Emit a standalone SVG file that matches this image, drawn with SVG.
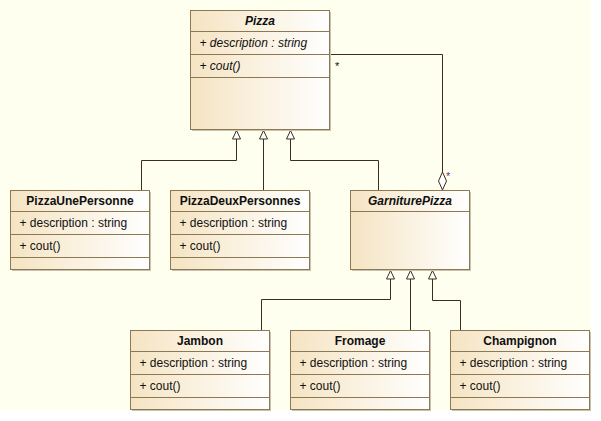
<svg xmlns="http://www.w3.org/2000/svg" width="601" height="421" viewBox="0 0 601 421">
<defs>
<linearGradient id="g" x1="0" y1="0" x2="1" y2="0">
<stop offset="0" stop-color="#F5E4C3"/>
<stop offset="1" stop-color="#FFFFFF"/>
</linearGradient>
<style>
.box{fill:url(#g);stroke:#8C7853;stroke-width:1}
.sh{fill:#C9C2AE}
.sep{stroke:#8C7853;stroke-width:1}
text{font-family:"Liberation Sans",Arial,sans-serif;font-size:12px;fill:#101010}
.t{font-weight:bold;text-anchor:middle}
.a{font-style:italic}
.c{fill:none;stroke:#3A2E20;stroke-width:1}
.tri{fill:#FFFFFF;stroke:#3A2E20;stroke-width:1}
</style>
</defs>
<rect x="0" y="0" width="601" height="421" fill="#FFFFFF"/>
<rect x="0" y="0" width="591" height="410" fill="#FFFFF0"/>

<g id="connectors">
<path class="c" d="M236.5,139 V160.5 H141.5 V190"/>
<path class="tri" d="M236.5,130.5 L240.5,139 L232.5,139 Z"/>
<path class="c" d="M263.5,139 V190"/>
<path class="tri" d="M263.5,130.5 L267.5,139 L259.5,139 Z"/>
<path class="c" d="M290.5,139 V160.5 H378.5 V190"/>
<path class="tri" d="M290.5,130.5 L294.5,139 L286.5,139 Z"/>
<path class="c" d="M330,54.5 H442.5 V172"/>
<path class="tri" d="M442.5,172 L446.5,181 L442.5,190 L438.5,181 Z"/>
<text x="335" y="70" style="font-size:11px">*</text>
<text x="446" y="180" style="font-size:11px;fill:#7A2A8A">*</text>
<path class="c" d="M390.5,279 V299.5 H261.5 V330"/>
<path class="tri" d="M390.5,270.5 L394.5,279 L386.5,279 Z"/>
<path class="c" d="M410.5,279 V330"/>
<path class="tri" d="M410.5,270.5 L414.5,279 L406.5,279 Z"/>
<path class="c" d="M432.5,279 V300.5 H460.5 V330"/>
<path class="tri" d="M432.5,270.5 L436.5,279 L428.5,279 Z"/>
</g>

<g id="Pizza">
<rect class="sh" x="192" y="12" width="139" height="119"/>
<rect class="box" x="190.5" y="10.5" width="139" height="119"/>
<line class="sep" x1="190.5" y1="31.5" x2="329.5" y2="31.5"/>
<line class="sep" x1="190.5" y1="54.5" x2="329.5" y2="54.5"/>
<line class="sep" x1="190.5" y1="77.5" x2="329.5" y2="77.5"/>
<text class="t a" x="260" y="25">Pizza</text>
<text class="a" x="199.5" y="47">+ description : string</text>
<text class="a" x="199.5" y="70">+ cout()</text>
</g>

<g id="PizzaUnePersonne">
<rect class="sh" x="12" y="192" width="139" height="79"/>
<rect class="box" x="10.5" y="190.5" width="139" height="79"/>
<line class="sep" x1="10.5" y1="211.5" x2="149.5" y2="211.5"/>
<line class="sep" x1="10.5" y1="234.5" x2="149.5" y2="234.5"/>
<line class="sep" x1="10.5" y1="257.5" x2="149.5" y2="257.5"/>
<text class="t" x="80" y="205">PizzaUnePersonne</text>
<text x="19.5" y="227">+ description : string</text>
<text x="19.5" y="250">+ cout()</text>
</g>

<g id="PizzaDeuxPersonnes">
<rect class="sh" x="172" y="192" width="139" height="79"/>
<rect class="box" x="170.5" y="190.5" width="139" height="79"/>
<line class="sep" x1="170.5" y1="211.5" x2="309.5" y2="211.5"/>
<line class="sep" x1="170.5" y1="234.5" x2="309.5" y2="234.5"/>
<line class="sep" x1="170.5" y1="257.5" x2="309.5" y2="257.5"/>
<text class="t" x="240" y="205">PizzaDeuxPersonnes</text>
<text x="179.5" y="227">+ description : string</text>
<text x="179.5" y="250">+ cout()</text>
</g>

<g id="GarniturePizza">
<rect class="sh" x="352" y="192" width="119" height="79"/>
<rect class="box" x="350.5" y="190.5" width="119" height="79"/>
<line class="sep" x1="350.5" y1="211.5" x2="469.5" y2="211.5"/>
<text class="t a" x="410" y="205">GarniturePizza</text>
</g>

<g id="Jambon">
<rect class="sh" x="132" y="332" width="139" height="79"/>
<rect class="box" x="130.5" y="330.5" width="139" height="79"/>
<line class="sep" x1="130.5" y1="351.5" x2="269.5" y2="351.5"/>
<line class="sep" x1="130.5" y1="374.5" x2="269.5" y2="374.5"/>
<line class="sep" x1="130.5" y1="397.5" x2="269.5" y2="397.5"/>
<text class="t" x="200" y="345">Jambon</text>
<text x="139.5" y="367">+ description : string</text>
<text x="139.5" y="390">+ cout()</text>
</g>

<g id="Fromage">
<rect class="sh" x="292" y="332" width="139" height="79"/>
<rect class="box" x="290.5" y="330.5" width="139" height="79"/>
<line class="sep" x1="290.5" y1="351.5" x2="429.5" y2="351.5"/>
<line class="sep" x1="290.5" y1="374.5" x2="429.5" y2="374.5"/>
<line class="sep" x1="290.5" y1="397.5" x2="429.5" y2="397.5"/>
<text class="t" x="360" y="345">Fromage</text>
<text x="299.5" y="367">+ description : string</text>
<text x="299.5" y="390">+ cout()</text>
</g>

<g id="Champignon">
<rect class="sh" x="452" y="332" width="139" height="79"/>
<rect class="box" x="450.5" y="330.5" width="139" height="79"/>
<line class="sep" x1="450.5" y1="351.5" x2="589.5" y2="351.5"/>
<line class="sep" x1="450.5" y1="374.5" x2="589.5" y2="374.5"/>
<line class="sep" x1="450.5" y1="397.5" x2="589.5" y2="397.5"/>
<text class="t" x="520" y="345">Champignon</text>
<text x="459.5" y="367">+ description : string</text>
<text x="459.5" y="390">+ cout()</text>
</g>
</svg>
